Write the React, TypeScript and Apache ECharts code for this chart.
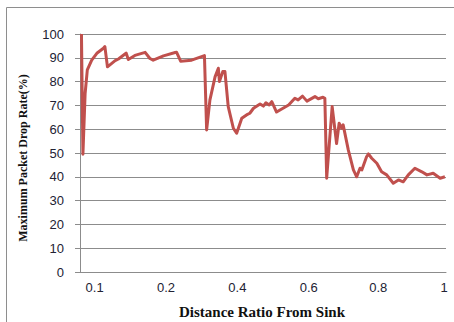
import React, { useEffect, useRef } from "react";
import * as echarts from "echarts";

// position along the (category-like) distance axis, 0..100 of the plot width
const positions = [
  0.4, 0.8, 1.4, 2.0, 3.2, 4.6, 6.4, 6.8, 7.5, 9.6, 10.5, 12.3, 12.6, 13.2, 15.0,
  17.8, 19.1, 20.0, 22.8, 26.0, 26.4, 27.5, 30.5, 34.0, 34.6, 35.5, 36.9, 37.8,
  38.1, 39.0, 39.6, 40.5, 41.9, 42.8, 44.2, 45.5, 46.4, 47.4, 49.2, 50.1, 50.8,
  51.7, 52.4, 53.7, 57.0, 58.7, 59.6, 60.8, 62.0, 64.2, 65.1, 66.4, 66.9, 67.4,
  68.9, 70.1, 70.8, 71.5, 71.9, 73.3, 74.7, 75.6, 76.5, 77.0, 78.3, 78.8, 79.7,
  81.1, 82.4, 83.8, 85.6, 87.0, 88.3, 89.7, 91.5, 93.4, 94.8, 96.5, 98.4, 99.7,
];
const dropRate = [
  100, 49.5, 75, 84.9, 89, 91.9, 94, 94.7, 86.2, 88.8, 89.5, 91.6, 92, 89.3, 91,
  92.3, 89.7, 89, 90.8, 92.2, 92.3, 88.6, 89, 90.9, 59.7, 72.3, 82, 85.6,
  80, 84.2, 84.2, 69.5, 60.4, 58.3, 64.6, 66, 66.7, 68.8, 70.6, 69.7, 71.1,
  70.2, 71.6, 67.2, 70.2, 73, 72.3, 73.9, 71.8, 73.7, 72.8, 73.4, 73, 39.4,
  69.5, 54, 62.5, 60.4, 61.8, 51.3, 42.9, 40, 43.6, 42.9, 48.4, 49.6, 47.8,
  45.7, 42.1, 40.8, 37.3, 38.7, 37.9, 40.8, 43.6, 42.1, 40.8, 41.5, 39.4, 40,
];

const tickPositions = [4, 23.5, 43, 62.5, 81.5, 99.5];
const tickLabels = ["0.1", "0.2", "0.4", "0.6", "0.8", "1"];

const xTitle = "Distance Ratio From Sink";
const yTitle = "Maximum Packet Drop Rate(%)";

export default function App() {
  const ref = useRef<HTMLDivElement>(null);
  useEffect(() => {
    if (!ref.current) return;
    const chart = echarts.init(ref.current, null, { renderer: "svg" });
    const data = positions.map((p, i) => [p, dropRate[i]]);
    chart.setOption({
      animation: false,
      backgroundColor: "#ffffff",
      grid: { left: 80, right: 8, top: 34, bottom: 50 },
      xAxis: {
        type: "value",
        min: 0,
        max: 100,
        interval: 0.5,
        axisLine: { show: true, lineStyle: { color: "#8c8c8c", width: 1 } },
        axisTick: { show: false },
        splitLine: { show: false },
        axisLabel: {
          margin: 9,
          fontFamily: "Liberation Sans",
          fontSize: 13,
          color: "#222233",
          showMinLabel: true,
          showMaxLabel: true,
          formatter: (v: number) => {
            const idx = tickPositions.findIndex((t) => Math.abs(t - v) < 0.01);
            return idx >= 0 ? tickLabels[idx] : "";
          },
        },
      },
      yAxis: {
        type: "value",
        min: 0,
        max: 100,
        interval: 10,
        axisLine: { show: true, lineStyle: { color: "#8c8c8c", width: 1 } },
        axisTick: { show: true, length: 5, lineStyle: { color: "#8c8c8c" } },
        splitLine: { show: true, lineStyle: { color: "#8c8c8c", width: 1 } },
        axisLabel: {
          margin: 16,
          fontFamily: "Liberation Sans",
          fontSize: 13,
          color: "#222233",
        },
      },
      graphic: [
        {
          type: "rect",
          silent: true,
          shape: { x: 6.5, y: 7.5, width: 470, height: 340 },
          style: { fill: "none", stroke: "#8e8e8e", lineWidth: 1 },
          z: -1,
        },
        {
          type: "text",
          x: 262,
          y: 312,
          style: {
            text: xTitle,
            font: "bold 15px 'Liberation Serif'",
            fill: "#111111",
            textAlign: "center",
            textVerticalAlign: "middle",
          },
        },
        {
          type: "text",
          x: 23,
          y: 158,
          rotation: Math.PI / 2,
          style: {
            text: yTitle,
            font: "bold 12px 'Liberation Serif'",
            fill: "#111111",
            textAlign: "center",
            textVerticalAlign: "middle",
          },
        },
      ],
      series: [
        {
          type: "line",
          data,
          showSymbol: false,
          lineStyle: { color: "#C0504D", width: 3, join: "round" },
          itemStyle: { color: "#C0504D" },
        },
      ],
    });
    return () => chart.dispose();
  }, []);
  return (
    <div
      ref={ref}
      style={{ position: "absolute", left: 0, top: 0, width: 454, height: 322 }}
    />
  );
}
